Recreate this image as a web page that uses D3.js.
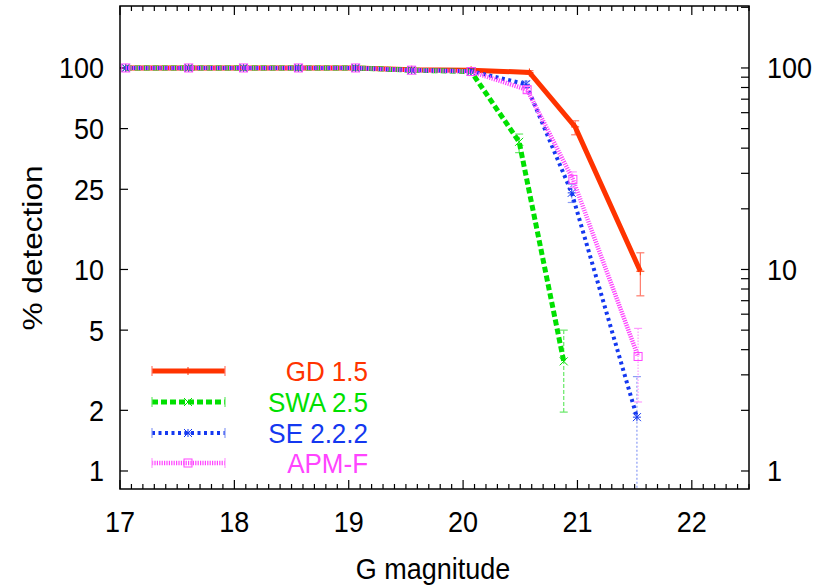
<!DOCTYPE html>
<meta charset="utf-8">
<html>
<head>
<style>
  body { margin: 0; background: #fff; }
  text { font-family: "Liberation Sans", Arial, Helvetica, sans-serif; }
</style>
<script src="https://d3js.org/d3.v7.min.js"></script>
</head>
<body>
<svg width="814" height="588"></svg>
<script>

// ---- data ----
var gdMag  = [17.05, 17.6, 18.08, 18.56, 19.06, 19.55, 20.07, 20.58, 20.98, 21.55];
var gdPct  = [100, 100, 100, 100, 100, 98, 97.5, 95, 51, 9.8];
var gdLo   = [100, 100, 100, 100, 100, 98, 97.5, 93.5, 46.6, 7.4];
var gdHi   = [100, 100, 100, 100, 100, 98, 97.5, 97, 54.7, 12.1];

var swaMag = [17.05, 17.6, 18.08, 18.56, 19.06, 19.55, 20.07, 20.49, 20.88];
var swaPct = [100, 100, 100, 100, 100, 97.5, 96, 43, 3.5];
var swaLo  = [100, 100, 100, 100, 100, 97.5, 96, 38, 1.96];
var swaHi  = [100, 100, 100, 100, 100, 97.5, 96, 47, 5.0];

var seMag  = [17.05, 17.6, 18.08, 18.56, 19.06, 19.55, 20.07, 20.55, 20.95, 21.52];
var sePct  = [100, 100, 100, 100, 100, 97.5, 96.5, 83, 24, 1.85];
var seLo   = [100, 100, 100, 100, 100, 97.5, 96.5, 80, 21.5, 0.5];
var seHi   = [100, 100, 100, 100, 100, 97.5, 96.5, 86, 26.5, 2.94];

var apmMag = [17.05, 17.6, 18.08, 18.56, 19.06, 19.55, 20.07, 20.56, 20.96, 21.53];
var apmPct = [100, 100, 100, 100, 100, 97.5, 96, 78, 28, 3.7];
var apmLo  = [100, 100, 100, 100, 100, 97.5, 96, 75, 25.5, 2.2];
var apmHi  = [100, 100, 100, 100, 100, 97.5, 96, 81, 30.5, 5.1];

var xTicks = [17, 18, 19, 20, 21, 22];
var yTicksLeft = [1, 2, 5, 10, 25, 50, 100];
var yTicksRight = [1, 10, 100];
var names = ["GD 1.5", "SWA 2.5", "SE 2.2.2", "APM-F"];

// ---- layout ----
var svg = d3.select("svg");
var pl = 120, pr = 749, pt = 6, pb = 489;
var stretch = 1.07;   // the picture's text is a little taller than it is wide
var fs = 27;

var x = d3.scaleLinear().domain([17, 22.5]).range([pl, pr]);
var y = d3.scaleLog().domain([0.814, 203]).range([pb, pt]);

function zip(mag, pct, lo, hi) {
  return mag.map(function(m, i) { return {m: m, p: pct[i], lo: lo[i], hi: hi[i]}; });
}

var series = [
  {name: names[0], data: zip(gdMag, gdPct, gdLo, gdHi), color: "#ff3300", err: "#ff7a6a", width: 5, dash: null, errDash: null, marker: "plus"},
  {name: names[1], data: zip(swaMag, swaPct, swaLo, swaHi), color: "#00e000", err: "#66e866", width: 5, dash: "6,3", errDash: "4,2", marker: "cross"},
  {name: names[2], data: zip(seMag, sePct, seLo, seHi), color: "#1438f0", err: "#8a9cf5", width: 4, dash: "3,3.5", errDash: "2,2", marker: "star"},
  {name: names[3], data: zip(apmMag, apmPct, apmLo, apmHi), color: "#ff44ff", err: "#ff9cff", width: 4.5, dash: "1.2,1.2", errDash: "1.5,1.5", marker: "box"}
];

function label(g, px, py, txt, anchor, color, size) {
  return g.append("text")
    .attr("transform", "translate(" + px + "," + py + ") scale(1," + stretch + ")")
    .attr("text-anchor", anchor)
    .attr("dy", "0.36em")
    .attr("font-size", size || fs)
    .attr("fill", color || "#000")
    .text(txt);
}

svg.append("defs").append("clipPath").attr("id", "plotclip")
  .append("rect").attr("x", pl).attr("y", pt).attr("width", pr - pl).attr("height", pb - pt);

// ---- ticks ----
var axes = svg.append("g").attr("stroke", "#000").attr("stroke-width", 1.2);
var minorX = d3.range(170, 226).map(function(v) { return v / 10; });
minorX.forEach(function(v) {
  var major = Math.abs(v - Math.round(v)) < 1e-6;
  var len = major ? 9 : 5;
  axes.append("line").attr("x1", x(v)).attr("x2", x(v)).attr("y1", pb).attr("y2", pb - len);
  axes.append("line").attr("x1", x(v)).attr("x2", x(v)).attr("y1", pt).attr("y2", pt + len);
});
yTicksLeft.forEach(function(v) {
  axes.append("line").attr("x1", pl).attr("x2", pl + 8).attr("y1", y(v)).attr("y2", y(v));
});
var minorY = [];
[1, 10, 100].forEach(function(dec) {
  for (var k = 1; k < 10; k++) if (dec * k <= 200) minorY.push(dec * k);
});
minorY.forEach(function(v) {
  axes.append("line").attr("x1", pr).attr("x2", pr - 8).attr("y1", y(v)).attr("y2", y(v));
});

// ---- tick labels ----
xTicks.forEach(function(v) { label(svg, x(v), 522, v, "middle"); });
yTicksLeft.forEach(function(v) { label(svg, 104, y(v), v, "end"); });
yTicksRight.forEach(function(v) { label(svg, 767, y(v), v, "start"); });

label(svg, 433, 569, "G magnitude", "middle");
svg.append("text")
  .attr("transform", "translate(32,248) scale(1," + (stretch + 0.1) + ") rotate(-90)")
  .attr("text-anchor", "middle")
  .attr("dy", "0.36em")
  .attr("font-size", fs)
  .text("% detection");

// ---- markers ----
function drawMarker(g, kind, cx, cy, color) {
  var s = 4;
  var m = g.append("g").attr("stroke", color).attr("stroke-width", 1).attr("fill", "none");
  if (kind == "plus" || kind == "star") {
    m.append("line").attr("x1", cx - s).attr("x2", cx + s).attr("y1", cy).attr("y2", cy);
    m.append("line").attr("x1", cx).attr("x2", cx).attr("y1", cy - s).attr("y2", cy + s);
  }
  if (kind == "cross" || kind == "star") {
    m.append("line").attr("x1", cx - s).attr("x2", cx + s).attr("y1", cy - s).attr("y2", cy + s);
    m.append("line").attr("x1", cx - s).attr("x2", cx + s).attr("y1", cy + s).attr("y2", cy - s);
  }
  if (kind == "box") {
    m.append("rect").attr("x", cx - s).attr("y", cy - s).attr("width", 2 * s).attr("height", 2 * s);
  }
}

// ---- series ----
var plot = svg.append("g").attr("clip-path", "url(#plotclip)");
var line = d3.line().x(function(d) { return x(d.m); }).y(function(d) { return y(d.p); });

series.forEach(function(s) {
  var g = plot.append("g");
  s.data.forEach(function(d) {
    if (d.hi - d.lo < 0.01) return;
    var eg = g.append("g").attr("stroke", s.err).attr("stroke-width", 1.2);
    eg.append("line").attr("x1", x(d.m)).attr("x2", x(d.m)).attr("y1", y(d.lo)).attr("y2", y(d.hi))
      .attr("stroke-dasharray", s.errDash);
    eg.append("line").attr("x1", x(d.m) - 4).attr("x2", x(d.m) + 4).attr("y1", y(d.lo)).attr("y2", y(d.lo));
    eg.append("line").attr("x1", x(d.m) - 4).attr("x2", x(d.m) + 4).attr("y1", y(d.hi)).attr("y2", y(d.hi));
  });
  g.append("path")
    .datum(s.data)
    .attr("d", line)
    .attr("fill", "none")
    .attr("stroke", s.color)
    .attr("stroke-width", s.width)
    .attr("stroke-dasharray", s.dash);
  s.data.forEach(function(d) { drawMarker(g, s.marker, x(d.m), y(d.p), s.color); });
});

// ---- legend ----
var legY = [371, 402, 433, 463];
series.forEach(function(s, i) {
  var lg = svg.append("g");
  lg.append("line").attr("x1", 152).attr("x2", 225).attr("y1", legY[i]).attr("y2", legY[i])
    .attr("stroke", s.color).attr("stroke-width", s.width).attr("stroke-dasharray", s.dash);
  [152, 225].forEach(function(px) {
    lg.append("line").attr("x1", px).attr("x2", px).attr("y1", legY[i] - 5).attr("y2", legY[i] + 5)
      .attr("stroke", s.err).attr("stroke-width", 1.2);
  });
  drawMarker(lg, s.marker, 188, legY[i], s.color);
  label(lg, 368, legY[i], s.name, "end", s.color, 26);
});

// ---- frame ----
svg.append("rect").attr("x", pl).attr("y", pt).attr("width", pr - pl).attr("height", pb - pt)
  .attr("fill", "none").attr("stroke", "#000").attr("stroke-width", 1.5);

</script>
</body>
</html>
